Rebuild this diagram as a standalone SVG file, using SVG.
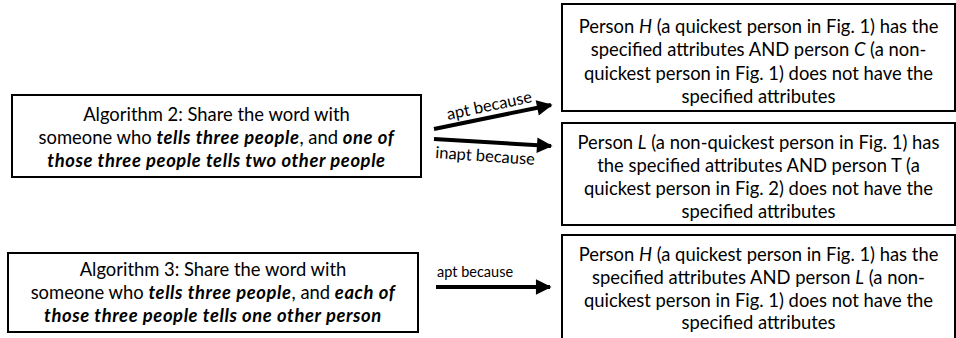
<svg xmlns="http://www.w3.org/2000/svg" width="956" height="338" viewBox="0 0 956 338">
  <style>
    .box { fill: #ffffff; stroke: #000000; stroke-width: 2; }
    .t { font-family: Lato, "Open Sans", "Liberation Sans", sans-serif; font-size: 18.4px; fill: #000000; text-anchor: middle; }
    .bi { font-style: italic; font-weight: bold; letter-spacing: 0.6px; }
    .i { font-style: italic; }
    .lbl { font-family: Lato, "Open Sans", "Liberation Sans", sans-serif; font-size: 16.5px; fill: #000000; }
    .lbl-s { font-size: 14.5px; }
    .conn { stroke: #000000; stroke-width: 4; fill: none; marker-end: url(#head); }
  </style>
  <defs>
    <marker id="head" viewBox="0 0 10 10" refX="9" refY="5" markerWidth="4.6" markerHeight="3.9" orient="auto" markerUnits="strokeWidth">
      <path d="M0,0 L10,5 L0,10 Z" fill="#000000"/>
    </marker>
  </defs>

  <rect width="956" height="338" fill="#ffffff"/>

  <!-- left-hand algorithm boxes -->
  <g id="algorithm2">
    <rect class="box" x="12" y="95" width="409" height="82"/>
    <text class="t" x="216.5" y="121">Algorithm 2: Share the word with</text>
    <text class="t" x="216.5" y="144">someone who <tspan class="bi">tells three people</tspan>, and <tspan class="bi">one of</tspan></text>
    <text class="t" x="216.5" y="167"><tspan class="bi">those three people tells two other people</tspan></text>
  </g>

  <g id="algorithm3">
    <rect class="box" x="8" y="253" width="410" height="79"/>
    <text class="t" x="213" y="276">Algorithm 3: Share the word with</text>
    <text class="t" x="213" y="299">someone who <tspan class="bi">tells three people</tspan>, and <tspan class="bi">each of</tspan></text>
    <text class="t" x="213" y="322"><tspan class="bi">those three people tells one other person</tspan></text>
  </g>

  <!-- right-hand reason boxes -->
  <g id="reason-apt2">
    <rect class="box" x="562" y="4" width="393" height="107"/>
    <text class="t" x="758.5" y="33">Person <tspan class="i">H</tspan> (a quickest person in Fig. 1) has the</text>
    <text class="t" x="758.5" y="56">specified attributes AND person <tspan class="i">C</tspan> (a non-</text>
    <text class="t" x="758.5" y="80">quickest person in Fig. 1) does not have the</text>
    <text class="t" x="758.5" y="103">specified attributes</text>
  </g>

  <g id="reason-inapt2">
    <rect class="box" x="562" y="123" width="393" height="102"/>
    <text class="t" x="758.5" y="149">Person <tspan class="i">L</tspan> (a non-quickest person in Fig. 1) has</text>
    <text class="t" x="758.5" y="172">the specified attributes AND person T (a</text>
    <text class="t" x="758.5" y="195">quickest person in Fig. 2) does not have the</text>
    <text class="t" x="758.5" y="218">specified attributes</text>
  </g>

  <g id="reason-apt3">
    <rect class="box" x="562" y="235" width="393" height="110"/>
    <text class="t" x="758.5" y="261">Person <tspan class="i">H</tspan> (a quickest person in Fig. 1) has the</text>
    <text class="t" x="758.5" y="284">specified attributes AND person <tspan class="i">L</tspan> (a non-</text>
    <text class="t" x="758.5" y="307">quickest person in Fig. 1) does not have the</text>
    <text class="t" x="758.5" y="329">specified attributes</text>
  </g>

  <!-- connectors with their labels -->
  <g id="connectors">
    <line class="conn" x1="434" y1="129" x2="551" y2="105"/>
    <text class="lbl" transform="translate(448,120) rotate(-12)">apt because</text>

    <line class="conn" x1="434" y1="139" x2="551" y2="146"/>
    <text class="lbl" transform="translate(435,158) rotate(4)">inapt because</text>

    <line class="conn" x1="436" y1="287" x2="550" y2="287"/>
    <text class="lbl lbl-s" x="437" y="277">apt because</text>
  </g>
</svg>
